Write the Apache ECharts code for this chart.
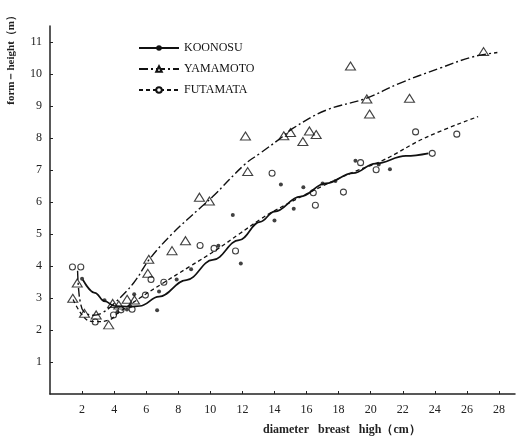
<!DOCTYPE html>
<html>
<head>
<meta charset="utf-8">
<script src="https://cdn.jsdelivr.net/npm/echarts@6/dist/echarts.min.js"></script>
<style>
  html, body { margin: 0; padding: 0; background: #fff; }
  #chart { width: 520px; height: 440px; }
</style>
</head>
<body>
<div id="chart"></div>
<script>
// 观测点 [胸径 cm, 形高 m]
const koonosuPts = [
  [2.0, 3.6], [3.4, 2.93], [4.2, 2.56], [4.8, 2.64], [5.0, 2.74], [5.25, 3.12],
  [6.68, 2.62], [6.8, 3.2], [7.9, 3.58], [8.8, 3.9], [10.5, 4.63], [11.4, 5.59],
  [11.9, 4.08], [14.0, 5.42], [14.4, 6.55], [15.2, 5.79], [15.8, 6.46],
  [17.0, 6.58], [17.8, 6.66], [19.05, 7.29], [20.5, 7.17], [21.2, 7.02]
]
const yamamotoPts = [
  [1.42, 2.99], [1.7, 3.47], [2.15, 2.52], [2.88, 2.47], [3.66, 2.16], [3.91, 2.83],
  [4.29, 2.78], [4.81, 2.96], [5.27, 2.94], [6.1, 3.77], [6.16, 4.21], [7.61, 4.48],
  [8.45, 4.79], [9.32, 6.15], [9.94, 6.03], [12.19, 8.06], [12.33, 6.95],
  [14.58, 8.07], [15.0, 8.17], [15.77, 7.89], [16.18, 8.22], [16.6, 8.11],
  [18.74, 10.25], [19.76, 9.22], [19.93, 8.75], [22.42, 9.24], [27.04, 10.7]
]
const futamataPts = [
  [1.4, 3.97], [1.92, 3.97], [2.82, 2.25], [3.96, 2.47], [4.43, 2.63], [5.12, 2.65],
  [5.95, 3.09], [6.3, 3.58], [7.1, 3.49], [9.36, 4.64], [10.23, 4.55], [11.57, 4.47],
  [13.85, 6.9], [16.42, 6.29], [16.55, 5.9], [18.3, 6.31], [19.37, 7.23],
  [20.34, 7.01], [22.8, 8.19], [23.84, 7.52], [25.37, 8.12]
]

// 拟合曲线
const koonosuCurve = [
  [2.05, 3.57], [2.8, 3.16], [3.4, 2.9], [4.05, 2.75], [5.0, 2.73], [5.6, 2.75],
  [6.8, 3.04], [8.5, 3.56], [10.15, 4.19], [11.8, 4.81], [13.1, 5.38], [14.0, 5.7],
  [15.6, 6.17], [17.2, 6.58], [18.9, 6.9], [20.3, 7.2], [22.2, 7.44], [23.6, 7.52]
]
const yamamotoCurve = [
  [1.72, 3.85], [1.78, 3.3], [1.9, 2.85], [2.1, 2.58], [2.7, 2.46], [3.3, 2.55],
  [4.0, 2.83], [5.2, 3.46], [6.2, 4.21], [7.65, 5.02], [9.33, 5.8], [10.15, 6.17],
  [12.2, 7.2], [13.1, 7.52], [14.5, 8.04], [15.14, 8.3], [17.22, 8.87], [19.72, 9.24],
  [21.8, 9.71], [24.3, 10.18], [26.4, 10.54], [27.9, 10.67]
]
const futamataCurve = [
  [1.44, 2.95], [2.17, 2.37], [2.8, 2.26], [3.73, 2.32], [4.25, 2.53], [5.6, 3.0],
  [7.0, 3.45], [8.7, 3.98], [10.36, 4.5], [11.8, 5.0], [13.06, 5.44], [13.9, 5.7],
  [17.0, 6.5], [19.0, 6.95], [20.75, 7.3], [23.46, 8.02], [26.7, 8.67]
]

const seriesNames = ['KOONOSU', 'YAMAMOTO', 'FUTAMATA']
const xTicks = [2, 4, 6, 8, 10, 12, 14, 16, 18, 20, 22, 24, 26, 28]
const yTicks = [1, 2, 3, 4, 5, 6, 7, 8, 9, 10, 11]

const serif = '"Liberation Serif", "DejaVu Serif", serif'

const chart = echarts.init(document.getElementById('chart'), null, { renderer: 'canvas' })

const option = {
  animation: false,
  backgroundColor: '#fff',
  textStyle: { fontFamily: serif, color: '#111' },
  grid: { left: 50, right: 5, top: 26, bottom: 46, containLabel: false },
  legend: {
    data: seriesNames,
    orient: 'vertical',
    left: 133,
    top: 37,
    itemWidth: 40,
    itemHeight: 7,
    itemGap: 9,
    textStyle: { fontFamily: serif, fontSize: 12, color: '#111' }
  },
  xAxis: {
    type: 'value',
    min: 0,
    max: 29,
    interval: 2,
    splitLine: { show: false },
    axisLine: { lineStyle: { color: '#222', width: 1.5 } },
    axisTick: { inside: true, length: 3, lineStyle: { color: '#222' } },
    axisLabel: {
      showMinLabel: false,
      showMaxLabel: false,
      color: '#222',
      fontFamily: serif,
      fontSize: 12,
      margin: 10,
      formatter: v => (xTicks.includes(v) ? String(v) : '')
    }
  },
  yAxis: {
    type: 'value',
    min: 0,
    max: 11.5,
    interval: 1,
    splitLine: { show: false },
    axisLine: { show: true, lineStyle: { color: '#222', width: 1.5 } },
    axisTick: { show: true, inside: true, length: 3, lineStyle: { color: '#222' } },
    axisLabel: {
      showMinLabel: false,
      showMaxLabel: false,
      color: '#222',
      fontFamily: serif,
      fontSize: 12,
      margin: 8,
      formatter: v => (yTicks.includes(v) ? String(v) : '')
    }
  },
  graphic: [
    {
      type: 'text',
      left: 6,
      top: 10,
      rotation: Math.PI / 2,
      originX: 0,
      originY: 0,
      style: {
        text: 'form－height（m）',
        fontFamily: serif,
        fontSize: 11,
        fontWeight: 'bold',
        fill: '#222'
      }
    },
    {
      type: 'text',
      left: 263,
      top: 424,
      style: {
        text: 'diameter   breast   high（cm）',
        fontFamily: serif,
        fontSize: 12,
        fontWeight: 'bold',
        fill: '#222'
      }
    }
  ],
  series: [
    {
      name: 'KOONOSU',
      type: 'line',
      data: koonosuCurve,
      smooth: 0.4,
      smoothMonotone: 'x',
      showSymbol: false,
      symbol: 'circle',
      symbolSize: 5,
      itemStyle: { color: '#111' },
      lineStyle: { color: '#111', width: 1.7, type: 'solid' }
    },
    {
      name: 'YAMAMOTO',
      type: 'line',
      data: yamamotoCurve,
      smooth: 0.4,
      showSymbol: false,
      symbol: 'triangle',
      symbolSize: [10, 8],
      itemStyle: { color: '#fff', borderColor: '#111', borderWidth: 1 },
      lineStyle: { color: '#111', width: 1.4, type: [9, 3, 2, 3] }
    },
    {
      name: 'FUTAMATA',
      type: 'line',
      data: futamataCurve,
      smooth: 0.4,
      showSymbol: false,
      symbol: 'circle',
      symbolSize: 5,
      itemStyle: { color: '#fff', borderColor: '#111', borderWidth: 1 },
      lineStyle: { color: '#111', width: 1.3, type: [4, 3] }
    },
    {
      name: 'KOONOSU pts',
      type: 'scatter',
      data: koonosuPts,
      symbol: 'circle',
      symbolSize: 4,
      itemStyle: { color: '#111' }
    },
    {
      name: 'YAMAMOTO pts',
      type: 'scatter',
      data: yamamotoPts,
      symbol: 'triangle',
      symbolSize: [10, 8],
      itemStyle: { color: 'rgba(255,255,255,0)', borderColor: '#111', borderWidth: 1.1 }
    },
    {
      name: 'FUTAMATA pts',
      type: 'scatter',
      data: futamataPts,
      symbol: 'circle',
      symbolSize: 6,
      itemStyle: { color: 'rgba(255,255,255,0)', borderColor: '#111', borderWidth: 1.1 }
    }
  ]
}

chart.setOption(option)
</script>
</body>
</html>
